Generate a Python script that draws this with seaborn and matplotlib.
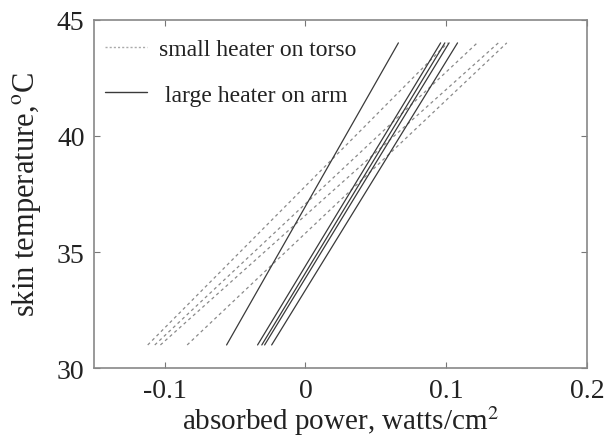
import pandas as pd
import matplotlib
matplotlib.use("Agg")
import matplotlib.pyplot as plt
import seaborn as sns

# Data: each fitted line runs from 31 C to 44 C
temp_ends = [31, 44]

torso_low = [-0.112, -0.107, -0.103, -0.084]
torso_high = [0.101, 0.122, 0.137, 0.143]

arm_low = [-0.056, -0.034, -0.031, -0.029, -0.024]
arm_high = [0.066, 0.096, 0.099, 0.102, 0.108]

x_ticks = [-0.1, 0, 0.1, 0.2]
x_tick_labels = ["-0.1", "0", "0.1", "0.2"]
y_ticks = [30, 35, 40, 45]

torso_label = "small heater on torso"
arm_label = " large heater on arm"


def build_frame():
    rows = []
    for i, (lo, hi) in enumerate(zip(torso_low, torso_high)):
        rows.append({"run": f"t{i}", "heater": torso_label, "power": lo, "temp": temp_ends[0]})
        rows.append({"run": f"t{i}", "heater": torso_label, "power": hi, "temp": temp_ends[1]})
    for i, (lo, hi) in enumerate(zip(arm_low, arm_high)):
        rows.append({"run": f"a{i}", "heater": arm_label, "power": lo, "temp": temp_ends[0]})
        rows.append({"run": f"a{i}", "heater": arm_label, "power": hi, "temp": temp_ends[1]})
    return pd.DataFrame(rows)


def main():
    sns.set_theme(style="ticks")
    plt.rcParams["font.family"] = ["Liberation Serif", "DejaVu Serif"]
    plt.rcParams["mathtext.fontset"] = "stix"
    plt.rcParams["text.color"] = "#222222"
    plt.rcParams["axes.labelcolor"] = "#222222"
    plt.rcParams["xtick.labelcolor"] = "#222222"
    plt.rcParams["ytick.labelcolor"] = "#222222"

    df = build_frame()

    fig = plt.figure(figsize=(6.04, 4.39), dpi=100)
    ax = fig.add_axes([0.156, 0.159, 0.816, 0.794])

    sns.lineplot(data=df, x="power", y="temp", hue="heater", style="heater",
                 units="run", estimator=None, sort=False,
                 palette={torso_label: "#8a8a8a", arm_label: "#3a3a3a"},
                 dashes={torso_label: (2.5, 2.5), arm_label: ""},
                 linewidth=0.9, ax=ax)

    ax.set_xlim(-0.15, 0.2)
    ax.set_ylim(30, 45)
    ax.set_xticks(x_ticks)
    ax.set_xticklabels(x_tick_labels)
    ax.set_yticks(y_ticks)
    ax.tick_params(direction="in", length=4, width=0.8, color="#777777",
                   labelsize=20, top=True, right=True, pad=7)
    for sp in ax.spines.values():
        sp.set_color("#888888")
        sp.set_linewidth(1.2)

    ax.set_xlabel("absorbed power, watts/cm$^2$", fontsize=21, labelpad=0)
    ax.set_ylabel("skin temperature,$^{\\mathrm{o}}$C", fontsize=22, labelpad=10)

    leg = ax.legend(loc="upper left", bbox_to_anchor=(0.0, 0.975), frameon=False,
                    fontsize=17, handlelength=1.8, labelspacing=1.0,
                    borderaxespad=0.25, handletextpad=0.5, borderpad=0.2)
    for line in leg.get_lines():
        line.set_linewidth(1.0)
    leg.get_lines()[0].set_dashes((1.5, 1.5))
    leg.get_lines()[0].set_color("#aaaaaa")

    fig.savefig("out.png", dpi=100)
    plt.close(fig)


if __name__ == "__main__":
    main()
